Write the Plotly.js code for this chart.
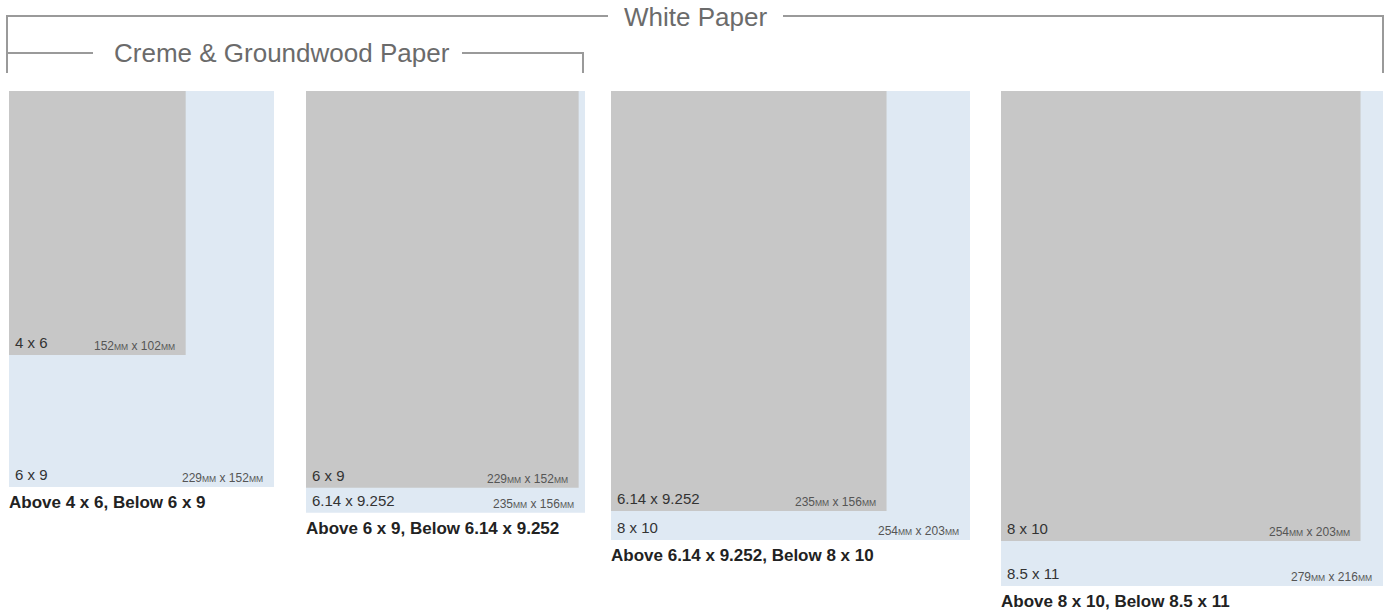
<!DOCTYPE html>
<html>
<head>
<meta charset="utf-8">
<script src="https://cdn.plot.ly/plotly-3.0.1.min.js"></script>
<style>
html, body { margin: 0; padding: 0; background: #ffffff; }
#chart { width: 1386px; height: 614px; }
</style>
</head>
<body>
<div id="chart"></div>
<script>
// ---------------- data ----------------
const groupTitles = ["White Paper", "Creme & Groundwood Paper"];

const innerLabels  = ["4 x 6", "6 x 9", "6.14 x 9.252", "8 x 10"];
const innerWidths  = [4, 6, 6.14, 8];
const innerHeights = [6, 9, 9.252, 10];
const innerMm      = ["152mm x 102mm", "229mm x 152mm", "235mm x 156mm", "254mm x 203mm"];

const outerLabels  = ["6 x 9", "6.14 x 9.252", "8 x 10", "8.5 x 11"];
const outerWidths  = [6, 6.14, 8, 8.5];
const outerHeights = [9, 9.252, 10, 11];
const outerMm      = ["229mm x 152mm", "235mm x 156mm", "254mm x 203mm", "279mm x 216mm"];

const captions = [
  "Above 4 x 6, Below 6 x 9",
  "Above 6 x 9, Below 6.14 x 9.252",
  "Above 6.14 x 9.252, Below 8 x 10",
  "Above 8 x 10, Below 8.5 x 11"
];

// ---------------- layout settings ----------------
const W = 1386, H = 614;
const panelPx = [[9, 274], [306, 585], [611, 970], [1001, 1383]];
const yRanges = [[11.886, 0], [10.272, 5.0], [11.909, -1.581], [11.622, 0]];
const plotTopPx = 91;
const BLUE = "#dfe9f3";
const GRAY = "#c7c7c7";
const LINE = "#9a9a9a";
const FONT = "Liberation Sans, Arial, Helvetica, sans-serif";

function mm(s) {
  return s.replace(/mm/g, '<span style="font-size:8.5px">MM</span>');
}
function px(x) { return x / W; }
function py(y) { return 1 - y / H; }

const traces = [];
const annotations = [];
const layout = {
  width: W, height: H,
  margin: { l: 0, r: 0, t: 0, b: 0 },
  paper_bgcolor: "#ffffff",
  plot_bgcolor: "rgba(0,0,0,0)",
  showlegend: false,
  font: { family: FONT },
  shapes: [],
  annotations: annotations
};

for (let i = 0; i < 4; i++) {
  const s = i === 0 ? "" : String(i + 1);
  const top = yRanges[i][1] - 1;
  layout["xaxis" + s] = {
    domain: [px(panelPx[i][0]), px(panelPx[i][1])],
    range: [0, outerWidths[i]],
    anchor: "y" + s,
    visible: false, fixedrange: true
  };
  layout["yaxis" + s] = {
    domain: [0, py(plotTopPx)],
    range: yRanges[i],
    anchor: "x" + s,
    visible: false, fixedrange: true
  };
  // outer (blue) page
  traces.push({
    type: "scatter", mode: "lines",
    x: [0, outerWidths[i], outerWidths[i], 0, 0],
    y: [top, top, outerHeights[i], outerHeights[i], top],
    fill: "toself", fillcolor: BLUE,
    line: { width: 0, color: BLUE },
    xaxis: "x" + s, yaxis: "y" + s, hoverinfo: "skip"
  });
  // inner (gray) page
  traces.push({
    type: "scatter", mode: "lines",
    x: [0, innerWidths[i], innerWidths[i], 0, 0],
    y: [top, top, innerHeights[i], innerHeights[i], top],
    fill: "toself", fillcolor: GRAY,
    line: { width: 0, color: GRAY },
    xaxis: "x" + s, yaxis: "y" + s, hoverinfo: "skip"
  });

  const xr = "x" + s, yr = "y" + s;
  // inner labels
  annotations.push({
    xref: xr, yref: yr, x: 0, y: innerHeights[i], xanchor: "left", yanchor: "bottom",
    xshift: 4, yshift: 2, showarrow: false, text: innerLabels[i],
    font: { size: 15, color: "#333333", family: FONT }
  });
  annotations.push({
    xref: xr, yref: yr, x: innerWidths[i], y: innerHeights[i], xanchor: "right", yanchor: "bottom",
    xshift: -9, yshift: 0, showarrow: false, text: mm(innerMm[i]),
    font: { size: 12, color: "#555555", family: FONT }
  });
  // outer labels
  annotations.push({
    xref: xr, yref: yr, x: 0, y: outerHeights[i], xanchor: "left", yanchor: "bottom",
    xshift: 4, yshift: 2, showarrow: false, text: outerLabels[i],
    font: { size: 15, color: "#333333", family: FONT }
  });
  annotations.push({
    xref: xr, yref: yr, x: outerWidths[i], y: outerHeights[i], xanchor: "right", yanchor: "bottom",
    xshift: -9, yshift: 0, showarrow: false, text: mm(outerMm[i]),
    font: { size: 12, color: "#555555", family: FONT }
  });
  // caption
  annotations.push({
    xref: xr, yref: yr, x: 0, y: outerHeights[i], xanchor: "left", yanchor: "top",
    xshift: -2, yshift: -4, showarrow: false, text: captions[i],
    font: { size: 17, color: "#222222", family: FONT, weight: "bold" }
  });
}

// group brackets
function pathPx(pts) {
  return pts.map((p, k) => (k === 0 ? "M" : "L") + px(p[0]).toFixed(5) + "," + py(p[1]).toFixed(5)).join(" ");
}
const bracketLine = { color: LINE, width: 2 };
layout.shapes.push({ type: "path", xref: "paper", yref: "paper", path: pathPx([[7, 73], [7, 16], [608, 16]]), line: bracketLine });
layout.shapes.push({ type: "path", xref: "paper", yref: "paper", path: pathPx([[783, 16], [1383, 16], [1383, 73]]), line: bracketLine });
layout.shapes.push({ type: "path", xref: "paper", yref: "paper", path: pathPx([[7, 53], [93, 53]]), line: bracketLine });
layout.shapes.push({ type: "path", xref: "paper", yref: "paper", path: pathPx([[462, 53], [583, 53], [583, 73]]), line: bracketLine });

annotations.push({
  xref: "paper", yref: "paper", x: px(695.5), y: py(17), xanchor: "center", yanchor: "middle",
  showarrow: false, text: groupTitles[0], font: { size: 26, color: "#6b6b6b", family: FONT }
});
annotations.push({
  xref: "paper", yref: "paper", x: px(282), y: py(53), xanchor: "center", yanchor: "middle",
  showarrow: false, text: groupTitles[1], font: { size: 26, color: "#6b6b6b", family: FONT }
});

Plotly.newPlot("chart", traces, layout, { staticPlot: true, displayModeBar: false });
</script>
</body>
</html>
